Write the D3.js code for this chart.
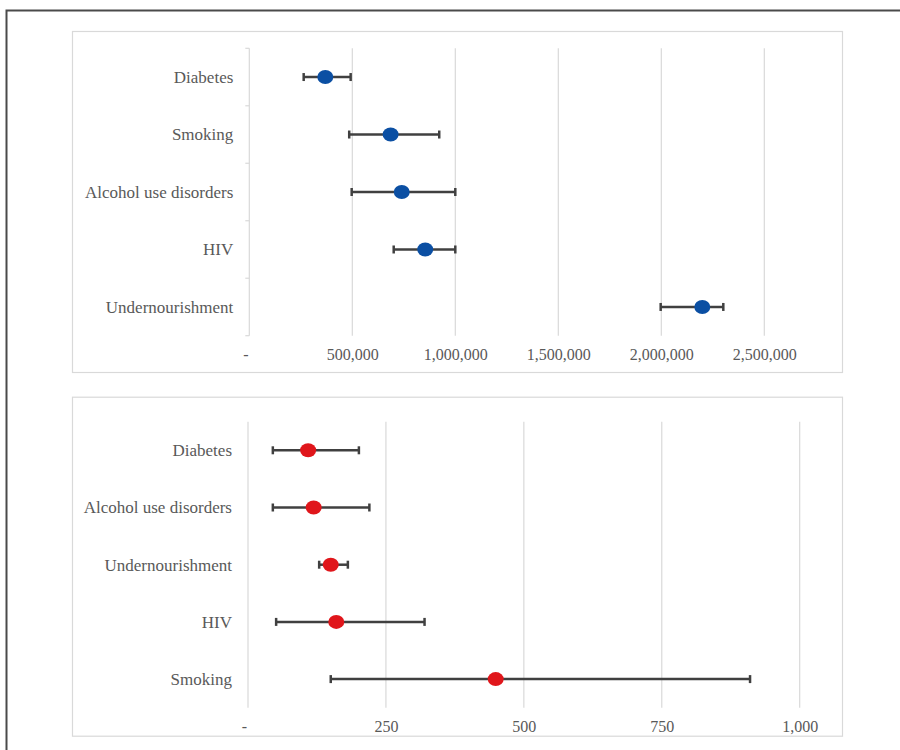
<!DOCTYPE html>
<html>
<head>
<meta charset="utf-8">
<script src="https://cdn.jsdelivr.net/npm/d3@7"></script>
<style>
  html, body { margin: 0; padding: 0; background: #fff; }
  svg { display: block; }
  text { font-family: "Liberation Serif", "DejaVu Serif", serif; }
</style>
</head>
<body>
<svg id="chart" width="900" height="750"></svg>
<script>
// Attributable deaths (top) with uncertainty intervals
const topCategories = ["Diabetes", "Smoking", "Alcohol use disorders", "HIV", "Undernourishment"];
const topValues = [369000, 686000, 740000, 854000, 2199000];
const topLow = [264000, 485000, 497000, 701000, 1997000];
const topHigh = [492000, 922000, 1000000, 1000000, 2301000];
const topTicks = [0, 500000, 1000000, 1500000, 2000000, 2500000];

// Rates (bottom) with uncertainty intervals
const bottomCategories = ["Diabetes", "Alcohol use disorders", "Undernourishment", "HIV", "Smoking"];
const bottomValues = [109, 119, 150, 160, 449];
const bottomLow = [45, 45, 129, 51, 150];
const bottomHigh = [201, 220, 181, 320, 910];
const bottomTicks = [0, 250, 500, 750, 1000];

const svg = d3.select("#chart");
const textColor = "#595959";
const gridColor = "#d9d9d9";
const barColor = "#404040";

// outer frame, running off the right and bottom edges
svg.append("path")
  .attr("d", "M6.5,760 L6.5,10.5 L910,10.5")
  .attr("fill", "none")
  .attr("stroke", "#4a4a4a")
  .attr("stroke-width", 2);

const fmt = d => d === 0 ? "-" : d3.format(",")(d);

function panel(opts) {
  const { box, plot, categories, values, low, high, ticks, color, yTicks } = opts;

  // chart area border
  svg.append("rect")
    .attr("x", box.x + 0.5).attr("y", box.y + 0.5)
    .attr("width", box.w).attr("height", box.h)
    .attr("fill", "#fff")
    .attr("stroke", gridColor)
    .attr("stroke-width", 1.2);

  const x = d3.scaleLinear()
    .domain([ticks[0], ticks[ticks.length - 1]])
    .range([plot.x0, plot.x1]);
  const y = d3.scaleBand()
    .domain(categories)
    .range([plot.y0, plot.y1]);

  const g = svg.append("g");

  // vertical gridlines (including the value axis at zero)
  g.append("g")
    .selectAll("line")
    .data(ticks)
    .join("line")
    .attr("x1", d => x(d)).attr("x2", d => x(d))
    .attr("y1", plot.y0).attr("y2", plot.y1)
    .attr("stroke", gridColor)
    .attr("stroke-width", 1.2);

  // category axis
  const yAxis = d3.axisLeft(y).tickSize(0).tickPadding(16);
  const ya = g.append("g")
    .attr("transform", `translate(${x(0)},0)`)
    .call(yAxis);
  ya.select(".domain").remove();
  ya.selectAll("text")
    .attr("fill", textColor)
    .attr("font-size", "17px")
    .attr("dy", "0.35em");

  // tick marks between categories
  if (yTicks) {
    const bounds = categories.map(c => y(c)).concat([plot.y1]);
    g.append("g")
      .selectAll("line")
      .data(bounds)
      .join("line")
      .attr("x1", x(0) - 4).attr("x2", x(0))
      .attr("y1", d => d).attr("y2", d => d)
      .attr("stroke", gridColor)
      .attr("stroke-width", 1.2);
  }

  // value axis labels
  const xAxis = d3.axisBottom(x).tickValues(ticks).tickFormat(fmt).tickSize(0).tickPadding(0);
  const xa = g.append("g")
    .attr("transform", `translate(0,${plot.labelY})`)
    .call(xAxis);
  xa.select(".domain").remove();
  xa.selectAll("text")
    .attr("fill", textColor)
    .attr("font-size", "16px")
    .attr("dy", "0.35em")
    .attr("x", d => d === 0 ? -4 : 0);

  const rows = categories.map((c, i) => ({ c, v: values[i], lo: low[i], hi: high[i] }));
  const cy = d => y(d.c) + y.bandwidth() / 2;

  // error bars
  const eb = g.append("g").attr("stroke", barColor).attr("stroke-width", 2.5);
  eb.selectAll("line.bar")
    .data(rows).join("line").attr("class", "bar")
    .attr("x1", d => x(d.lo)).attr("x2", d => x(d.hi))
    .attr("y1", cy).attr("y2", cy);
  eb.selectAll("line.capl")
    .data(rows).join("line").attr("class", "capl")
    .attr("x1", d => x(d.lo)).attr("x2", d => x(d.lo))
    .attr("y1", d => cy(d) - 4).attr("y2", d => cy(d) + 4);
  eb.selectAll("line.caph")
    .data(rows).join("line").attr("class", "caph")
    .attr("x1", d => x(d.hi)).attr("x2", d => x(d.hi))
    .attr("y1", d => cy(d) - 4).attr("y2", d => cy(d) + 4);

  // point estimates
  g.append("g")
    .selectAll("ellipse")
    .data(rows).join("ellipse")
    .attr("cx", d => x(d.v))
    .attr("cy", cy)
    .attr("rx", 8).attr("ry", 7)
    .attr("fill", color);
}

panel({
  box: { x: 72, y: 31, w: 770, h: 341 },
  plot: { x0: 249.3, x1: 764.3, y0: 48.3, y1: 335.7, labelY: 354 },
  categories: topCategories, values: topValues, low: topLow, high: topHigh,
  ticks: topTicks, color: "#0b4fa3", yTicks: true
});

panel({
  box: { x: 72, y: 396.7, w: 770, h: 339 },
  plot: { x0: 248, x1: 799.7, y0: 421.7, y1: 707.7, labelY: 726 },
  categories: bottomCategories, values: bottomValues, low: bottomLow, high: bottomHigh,
  ticks: bottomTicks, color: "#e0161b", yTicks: false
});
</script>
</body>
</html>
